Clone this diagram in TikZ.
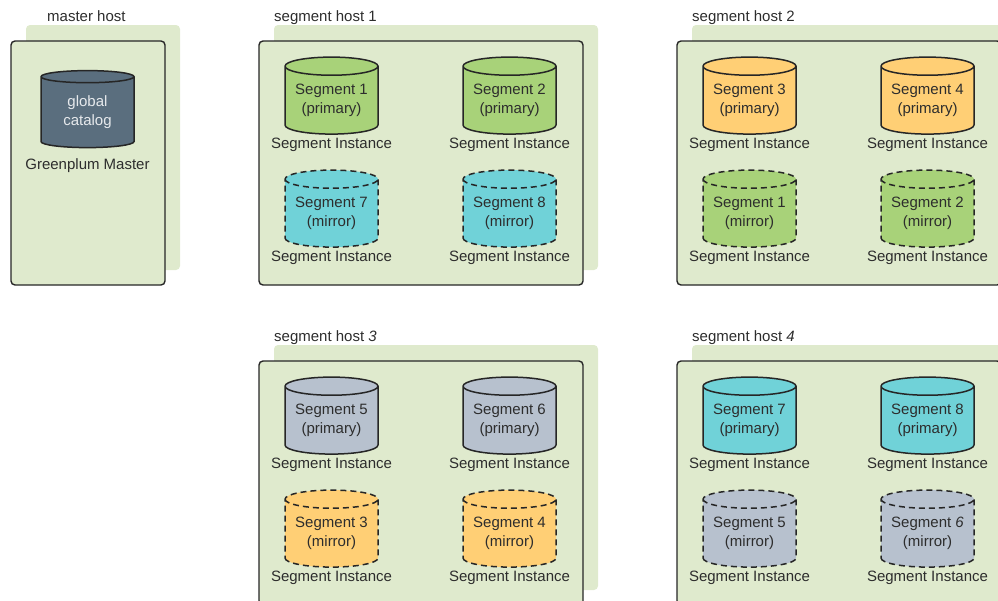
\documentclass[tikz,border=0pt]{standalone}
\usepackage{fontspec}
\setmainfont{Liberation Sans}
\usepackage{xcolor}
\usetikzlibrary{shapes.geometric,positioning}
\definecolor{hostbg}{RGB}{223,234,205}
\definecolor{seggreen}{RGB}{168,210,121}
\definecolor{segcyan}{RGB}{112,210,216}
\definecolor{seggray}{RGB}{183,193,206}
\definecolor{segorange}{RGB}{255,207,117}
\definecolor{masterslate}{RGB}{90,110,126}
\definecolor{labelgray}{RGB}{45,45,45}

\begin{document}
\begin{tikzpicture}[x=1pt, y=-1pt, font=\fontsize{15}{19}\selectfont, text=labelgray,
        hostback/.style={rectangle, fill=hostbg, rounded corners=4pt, minimum height=245pt, inner sep=0pt},
        hostfront/.style={rectangle, draw=black!85, line width=1.4pt, fill=hostbg, rounded corners=4pt, minimum height=244pt, inner sep=0pt},
        hostlabel/.style={anchor=base west, inner sep=0pt},
        disk/.style={cylinder, shape border rotate=90, aspect=0.25, draw=black!85, line width=1.5pt, minimum width=93pt, minimum height=77pt, inner sep=0pt, align=center},
        mirror/.style={disk, dashed, dash pattern=on 6pt off 4pt},
        inst/.style={below of=#1, node distance=44.5pt, inner sep=0pt},
        nextrow/.style={below of=#1, node distance=113pt},
        nextcol/.style={right of=#1, node distance=178pt}
    ]
        \useasboundingbox (0,0) rectangle (998,600);
        \clip (0,0) rectangle (998,600);

        \node[hostback, minimum width=154pt] (mback) at (103,147.5) {};
        \node[hostfront, minimum width=154pt] (mfront) at (88,163) {};
        \node[hostlabel] (mlabel) at (47,21) {master host};
        \node[disk, fill=masterslate, text=white!85!masterslate] (master) at (87.5,112.5) {global\\catalog};
        \node[inst=master, node distance=53.5pt] (masterinst) {Greenplum Master};

        \node[hostback, minimum width=324pt] (h1back) at (436,147.5) {};
        \node[hostfront, minimum width=324pt] (h1front) at (421,163) {};
        \node[hostlabel] (h1label) at (274,21) {segment host 1};
        \node[disk, fill=seggreen] (s1p) at (331.5,100.5) {Segment 1\\(primary)};
        \node[disk, fill=seggreen, nextcol=s1p] (s2p) {Segment 2\\(primary)};
        \node[mirror, fill=segcyan, nextrow=s1p] (s7m) {Segment 7\\(mirror)};
        \node[mirror, fill=segcyan, nextrow=s2p] (s8m) {Segment 8\\(mirror)};
        \node[inst=s1p] (s1pi) {Segment Instance};
        \node[inst=s2p] (s2pi) {Segment Instance};
        \node[inst=s7m] (s7mi) {Segment Instance};
        \node[inst=s8m] (s8mi) {Segment Instance};

        \node[hostback, minimum width=324pt] (h2back) at (854,147.5) {};
        \node[hostfront, minimum width=324pt] (h2front) at (839,163) {};
        \node[hostlabel] (h2label) at (692,21) {segment host 2};
        \node[disk, fill=segorange] (s3p) at (749.5,100.5) {Segment 3\\(primary)};
        \node[disk, fill=segorange, nextcol=s3p] (s4p) {Segment 4\\(primary)};
        \node[mirror, fill=seggreen, nextrow=s3p] (s1m) {Segment 1\\(mirror)};
        \node[mirror, fill=seggreen, nextrow=s4p] (s2m) {Segment 2\\(mirror)};
        \node[inst=s3p] (s3pi) {Segment Instance};
        \node[inst=s4p] (s4pi) {Segment Instance};
        \node[inst=s1m] (s1mi) {Segment Instance};
        \node[inst=s2m] (s2mi) {Segment Instance};

        \node[hostback, minimum width=324pt] (h3back) at (436,467.5) {};
        \node[hostfront, minimum width=324pt] (h3front) at (421,483) {};
        \node[hostlabel] (h3label) at (274,341) {segment host \textit{3}};
        \node[disk, fill=seggray] (s5p) at (331.5,420.5) {Segment 5\\(primary)};
        \node[disk, fill=seggray, nextcol=s5p] (s6p) {Segment 6\\(primary)};
        \node[mirror, fill=segorange, nextrow=s5p] (s3m) {Segment 3\\(mirror)};
        \node[mirror, fill=segorange, nextrow=s6p] (s4m) {Segment 4\\(mirror)};
        \node[inst=s5p] (s5pi) {Segment Instance};
        \node[inst=s6p] (s6pi) {Segment Instance};
        \node[inst=s3m] (s3mi) {Segment Instance};
        \node[inst=s4m] (s4mi) {Segment Instance};

        \node[hostback, minimum width=324pt] (h4back) at (854,467.5) {};
        \node[hostfront, minimum width=324pt] (h4front) at (839,483) {};
        \node[hostlabel] (h4label) at (692,341) {segment host \textit{4}};
        \node[disk, fill=segcyan] (s7p) at (749.5,420.5) {Segment 7\\(primary)};
        \node[disk, fill=segcyan, nextcol=s7p] (s8p) {Segment 8\\(primary)};
        \node[mirror, fill=seggray, nextrow=s7p] (s5m) {Segment 5\\(mirror)};
        \node[mirror, fill=seggray, nextrow=s8p] (s6m) {Segment \textit{6}\\(mirror)};
        \node[inst=s7p] (s7pi) {Segment Instance};
        \node[inst=s8p] (s8pi) {Segment Instance};
        \node[inst=s5m] (s5mi) {Segment Instance};
        \node[inst=s6m] (s6mi) {Segment Instance};
    \end{tikzpicture}
\end{document}
